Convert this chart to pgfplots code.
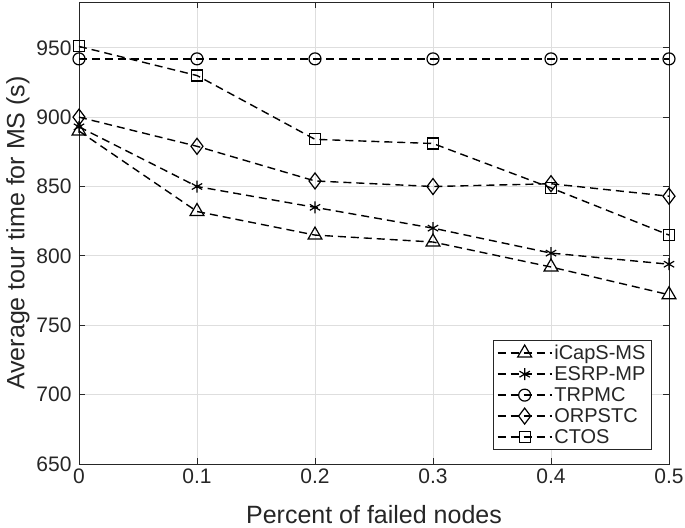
\documentclass[border=0pt]{standalone}
\usepackage{pgfplots}
\pgfplotsset{compat=1.18}
\usepackage{fontspec}
\setmainfont{Liberation Sans}
\definecolor{axgray}{RGB}{38,38,38}
\definecolor{gridgray}{RGB}{222,222,222}
\begin{document}
\begin{tikzpicture}[x=1bp,y=1bp]
\begin{axis}[
  at={(0,0)}, anchor=south west,
  scale only axis,
  width=590bp, height=462bp,
  xmin=0, xmax=0.5, ymin=650, ymax=983,
  xtick={0,0.1,0.2,0.3,0.4,0.5},
  xticklabels={0,0.1,0.2,0.3,0.4,0.5},
  ytick={650,700,750,800,850,900,950},
  /pgf/number format/assume math mode=true,
  grid=major,
  major grid style={gridgray, line width=0.8bp},
  axis line style={axgray, line width=0.9bp},
  tick style={axgray, line width=0.8bp},
  tick align=inside,
  major tick length=6bp,
  ticklabel style={font=\fontsize{21bp}{24bp}\selectfont, text=axgray},
  xticklabel style={yshift=-1bp},
  yticklabel style={xshift=-4bp},
  xlabel={Percent of failed nodes},
  ylabel={Average tour time for MS (s)},
  every axis x label/.style={at={(axis description cs:0.5,0)}, anchor=center, yshift=-51bp,
     font=\fontsize{25bp}{28bp}\selectfont, text=axgray},
  every axis y label/.style={at={(axis description cs:0,0.5)}, anchor=center, rotate=90, yshift=61bp,
     font=\fontsize{25bp}{28bp}\selectfont, text=axgray},
  legend style={at={(0.971,0.030)}, anchor=south east, draw=axgray, line width=0.8bp,
    font=\fontsize{20bp}{23bp}\selectfont, text=axgray, row sep=1.5bp, inner xsep=4bp, inner ysep=3bp,
    legend cell align=left},
  legend image code/.code={\draw[mark repeat=2,mark phase=2] plot coordinates {(0bp,0bp) (27bp,0bp) (54bp,0bp)};},
  every axis plot/.append style={black, line width=1.4bp, dash pattern=on 8bp off 5bp,
     mark options={solid, fill=white, line width=1.2bp}},
]
\addplot[mark=triangle, mark size=8bp] coordinates {(0,890) (0.1,832) (0.2,815) (0.3,810) (0.4,792) (0.5,772)};
\addplot[mark=asterisk, mark size=6bp] coordinates {(0,893) (0.1,850) (0.2,835) (0.3,820) (0.4,802) (0.5,794)};
\addplot[mark=o, mark size=6bp] coordinates {(0,942) (0.1,942) (0.2,942) (0.3,942) (0.4,942) (0.5,942)};
\addplot[mark=diamond, mark size=8bp] coordinates {(0,900) (0.1,879) (0.2,854) (0.3,850) (0.4,852) (0.5,843)};
\addplot[mark=square, mark size=5.5bp] coordinates {(0,951) (0.1,930) (0.2,884) (0.3,881) (0.4,849) (0.5,815)};
\legend{iCapS-MS,ESRP-MP,TRPMC,ORPSTC,CTOS}
\end{axis}
\pgfresetboundingbox
\useasboundingbox (-79bp,-64bp) rectangle (606bp,464bp);
\end{tikzpicture}
\end{document}
